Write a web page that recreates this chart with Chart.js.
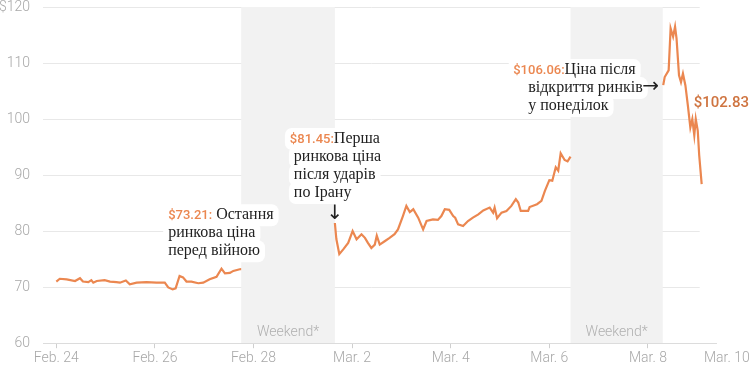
<!DOCTYPE html>
<html>
<head>
<meta charset="utf-8">
<script src="https://cdn.jsdelivr.net/npm/chart.js@4/dist/chart.umd.min.js"></script>
<style>
  html, body { margin: 0; padding: 0; background: #fff; }
  #wrap { width: 750px; height: 373px; position: relative; }
</style>
</head>
<body>
<div id="wrap"><canvas id="grafico"></canvas></div>
<script>
// dias contados desde Feb. 24 00:00, precio del barril en dolares
const seg1Days = [0.00, 0.07, 0.21, 0.38, 0.48, 0.54, 0.65, 0.71, 0.75, 0.82, 0.98, 1.09, 1.22, 1.29, 1.41, 1.49, 1.63, 1.83, 2.03, 2.20, 2.27, 2.36, 2.42, 2.50, 2.57, 2.64, 2.74, 2.88, 2.98, 3.11, 3.25, 3.35, 3.42, 3.52, 3.59, 3.72, 3.75];
const seg1Prices = [71.0, 71.5, 71.4, 71.1, 71.6, 71.0, 70.9, 71.25, 70.8, 71.1, 71.25, 71.0, 70.9, 70.8, 71.2, 70.5, 70.8, 70.9, 70.8, 70.8, 69.95, 69.6, 69.8, 72.0, 71.75, 71.0, 71.0, 70.7, 70.8, 71.4, 71.85, 73.3, 72.45, 72.55, 72.9, 73.2, 73.21];

const seg2Days = [5.65, 5.68, 5.74, 5.82, 5.92, 6.01, 6.09, 6.19, 6.26, 6.32, 6.39, 6.46, 6.50, 6.56, 6.66, 6.76, 6.86, 6.93, 7.03, 7.10, 7.17, 7.24, 7.34, 7.44, 7.51, 7.64, 7.74, 7.81, 7.88, 7.97, 8.05, 8.09, 8.15, 8.25, 8.35, 8.45, 8.56, 8.66, 8.79, 8.86, 8.89, 8.94, 9.03, 9.13, 9.23, 9.32, 9.37, 9.42, 9.57, 9.60, 9.75, 9.84, 9.91, 10.00, 10.06, 10.13, 10.18, 10.23, 10.31, 10.37, 10.43];
const seg2Prices = [81.45, 78.6, 75.9, 76.75, 77.9, 80.0, 78.55, 79.45, 78.8, 77.9, 77.0, 77.6, 79.2, 77.6, 78.2, 78.8, 79.45, 80.3, 82.7, 84.5, 83.4, 83.9, 82.4, 80.3, 81.8, 82.1, 82.0, 82.7, 83.9, 83.8, 82.7, 82.4, 81.2, 80.9, 81.8, 82.4, 83.0, 83.7, 84.2, 83.3, 84.2, 82.3, 83.3, 83.6, 84.5, 85.7, 85.1, 83.6, 83.6, 84.3, 84.8, 85.4, 87.2, 89.1, 89.0, 91.4, 90.8, 93.9, 92.7, 92.45, 93.3];

const seg3Days = [12.31, 12.34, 12.42, 12.46, 12.51, 12.55, 12.58, 12.63, 12.67, 12.71, 12.76, 12.81, 12.86, 12.90, 12.94, 12.97, 13.01, 13.04, 13.09];
const seg3Prices = [106.06, 107.5, 108.7, 116.2, 114.7, 116.5, 114.4, 107.8, 106.6, 108.1, 106.0, 102.4, 98.5, 100.0, 97.1, 100.0, 97.95, 93.5, 88.4];

// etiquetas del eje X (la ultima va pegada al borde como en el original)
const tickDays = [0, 2, 4, 6, 8, 10, 12, 13.6];
const tickLabels = ["Feb. 24", "Feb. 26", "Feb. 28", "Mar. 2", "Mar. 4", "Mar. 6", "Mar. 8", "Mar. 10"];
const yTicks = [60, 70, 80, 90, 100, 110, 120];

// fines de semana (inicio, fin) en dias
const weekendBands = [[3.75, 5.65], [10.43, 12.3]];
const gridEndDay = 13.05;
const axisEndDay = 13.4;

const lastPrice = 102.83;

const orange = "#eb8750";
const sansFont = "500 13px Roboto";
const serifFont = "16px 'Liberation Serif'";
const arrowFont = "20px 'DejaVu Sans'";

function toPoints(days, prices) {
    return days.map((d, i) => ({ x: d, y: prices[i] }));
}

// dibuja una nota: cada linea tiene partes con su fuente y color
function drawNote(ctx, lines, x0, y0) {
    const lh = 18;
    lines.forEach((line, i) => {
        let w = 0;
        line.parts.forEach(p => { ctx.font = p.font; w += ctx.measureText(p.text).width; });
        const bx = x0 + (line.dx || 0);
        const by = y0 + i * lh;
        ctx.fillStyle = "#fff";
        ctx.beginPath();
        ctx.roundRect(bx - 5, by - 15, w + 10, lh + 4, 7);
        ctx.fill();
    });
    lines.forEach((line, i) => {
        let cx = x0 + (line.dx || 0);
        const by = y0 + i * lh;
        line.parts.forEach(p => {
            ctx.font = p.font;
            ctx.fillStyle = p.color;
            ctx.fillText(p.text, cx, by);
            cx += ctx.measureText(p.text).width;
        });
    });
}

const decor = {
    id: "decor",
    beforeDatasetsDraw(chart) {
        const { ctx, chartArea: a, scales: { x, y } } = chart;
        ctx.save();
        // lineas horizontales
        ctx.strokeStyle = "#e8e8e8";
        ctx.lineWidth = 1;
        yTicks.slice(1).forEach(v => {
            const py = Math.round(y.getPixelForValue(v)) + 0.5;
            ctx.beginPath();
            ctx.moveTo(a.left, py);
            ctx.lineTo(x.getPixelForValue(gridEndDay), py);
            ctx.stroke();
        });
        // bandas de fin de semana
        weekendBands.forEach(([s, e]) => {
            const x0 = x.getPixelForValue(s), x1 = x.getPixelForValue(e);
            ctx.fillStyle = "#f2f2f2";
            ctx.fillRect(x0, a.top, x1 - x0, a.bottom - a.top);
            ctx.fillStyle = "#b0b0b0";
            ctx.font = "300 14px Roboto";
            ctx.textAlign = "center";
            ctx.textBaseline = "alphabetic";
            ctx.fillText("Weekend*", (x0 + x1) / 2, a.bottom - 7);
        });
        // linea del eje X
        const by = Math.round(y.getPixelForValue(60)) + 0.5;
        ctx.strokeStyle = "#dcdcdc";
        ctx.beginPath();
        ctx.moveTo(a.left, by);
        ctx.lineTo(x.getPixelForValue(axisEndDay), by);
        ctx.stroke();
        ctx.restore();
    },
    afterDatasetsDraw(chart) {
        const { ctx, scales: { x, y } } = chart;
        ctx.save();
        ctx.textAlign = "left";
        ctx.textBaseline = "alphabetic";

        const p1x = x.getPixelForValue(seg1Days[seg1Days.length - 1]);
        const p1y = y.getPixelForValue(seg1Prices[seg1Prices.length - 1]);
        drawNote(ctx, [
            { parts: [{ text: "$73.21:", font: sansFont, color: orange }, { text: " Остання", font: serifFont, color: "#222" }] },
            { parts: [{ text: "ринкова ціна", font: serifFont, color: "#222" }] },
            { parts: [{ text: "перед війною", font: serifFont, color: "#222" }] }
        ], p1x - 73, p1y - 50);

        const p2x = x.getPixelForValue(seg2Days[0]);
        const p2y = y.getPixelForValue(seg2Prices[0]);
        drawNote(ctx, [
            { parts: [{ text: "$81.45:", font: sansFont, color: orange }, { text: "Перша", font: serifFont, color: "#222" }] },
            { dx: 4, parts: [{ text: "ринкова ціна", font: serifFont, color: "#222" }] },
            { dx: 4, parts: [{ text: "після ударів", font: serifFont, color: "#222" }] },
            { dx: 4, parts: [{ text: "по Ірану", font: serifFont, color: "#222" }] }
        ], p2x - 45, p2y - 80);
        ctx.font = arrowFont;
        ctx.fillStyle = "#222";
        ctx.textAlign = "center";
        ctx.fillText("↓", p2x, p2y - 4);
        ctx.textAlign = "left";

        const p3x = x.getPixelForValue(seg3Days[0]);
        const p3y = y.getPixelForValue(seg3Prices[0]);
        drawNote(ctx, [
            { parts: [{ text: "$106.06:", font: sansFont, color: orange }, { text: "Ціна після", font: serifFont, color: "#222" }] },
            { dx: 15, parts: [{ text: "відкриття ринків", font: serifFont, color: "#222" }] },
            { dx: 15, parts: [{ text: "у понеділок", font: serifFont, color: "#222" }] }
        ], p3x - 150, p3y - 11);
        ctx.font = arrowFont;
        ctx.fillStyle = "#222";
        ctx.fillText("→", p3x - 21, p3y + 7);

        // precio final
        ctx.font = "500 15px Roboto";
        ctx.fillStyle = "#cf7440";
        ctx.fillText("$" + lastPrice.toFixed(2), x.getPixelForValue(seg3Days[seg3Days.length - 1]) - 8, y.getPixelForValue(lastPrice) + 4);
        ctx.restore();
    }
};

const lineStyle = {
    borderColor: orange,
    borderWidth: 2.2,
    pointRadius: 0,
    tension: 0,
    fill: false
};

new Chart(document.getElementById("grafico"), {
    type: "line",
    data: {
        datasets: [
            { ...lineStyle, data: toPoints(seg1Days, seg1Prices) },
            { ...lineStyle, data: toPoints(seg2Days, seg2Prices) },
            { ...lineStyle, data: toPoints(seg3Days, seg3Prices) }
        ]
    },
    options: {
        responsive: true,
        maintainAspectRatio: false,
        animation: false,
        layout: { padding: { left: 0, right: 0, top: 0, bottom: 4 } },
        plugins: { legend: { display: false }, tooltip: { enabled: false } },
        scales: {
            x: {
                type: "linear",
                min: -0.27,
                max: 14.07,
                afterBuildTicks: scale => { scale.ticks = tickDays.map(v => ({ value: v })); },
                afterFit: scale => { scale.paddingLeft = 0; scale.paddingRight = 0; },
                ticks: {
                    autoSkip: false,
                    maxRotation: 0,
                    padding: 2,
                    color: "#a8a8a8",
                    font: { family: "Roboto", size: 14, weight: "300" },
                    callback: (v, i) => tickLabels[i]
                },
                grid: {
                    drawOnChartArea: false,
                    tickLength: 5,
                    tickColor: c => (c.index === tickDays.length - 1 ? "rgba(0,0,0,0)" : "#cfcfcf")
                },
                border: { display: false }
            },
            y: {
                min: 60,
                max: 120,
                afterBuildTicks: scale => { scale.ticks = yTicks.map(v => ({ value: v })); },
                afterFit: scale => { scale.width = 43; scale.paddingTop = 7; },
                ticks: {
                    padding: 5,
                    color: "#a8a8a8",
                    font: { family: "Roboto", size: 14, weight: "300", lineHeight: 1 },
                    callback: v => (v === 120 ? "$120" : String(v))
                },
                grid: { display: false },
                border: { display: false }
            }
        }
    },
    plugins: [decor]
});
</script>
</body>
</html>
